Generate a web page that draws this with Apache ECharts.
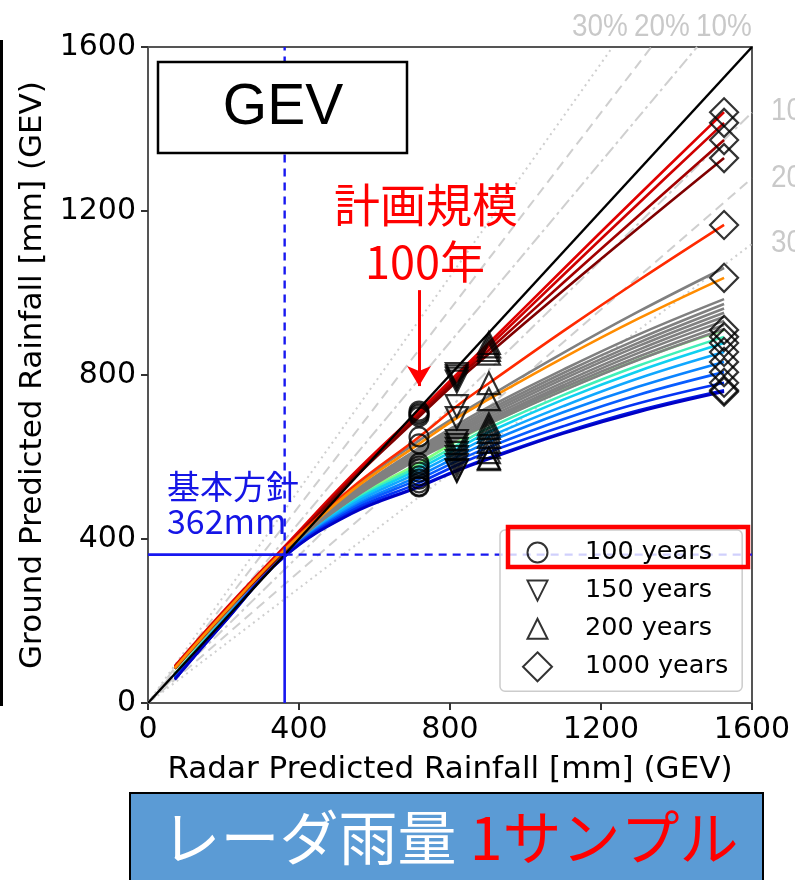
<!DOCTYPE html>
<html>
<head>
<meta charset="utf-8">
<script src="https://cdn.jsdelivr.net/npm/echarts@6/dist/echarts.min.js"></script>
<style>
  html, body { margin: 0; padding: 0; background: #ffffff; }
  #chart { width: 795px; height: 880px; }
</style>
</head>
<body>
<div id="chart"></div>
<script>
// Radar rainfall (mm) where every fitted curve is sampled; entries 4..6 and 9
// are the 100 / 150 / 200 / 1000-year quantiles.
const radarX = [71, 200, 362, 540, 718, 818, 903, 1100, 1300, 1526];
const periodLabels = ['100 years', '150 years', '200 years', '1000 years'];
const periodIndex = [4, 5, 6, 9];

// Ground rainfall (mm) along each curve, one value per radarX entry.
const warmCurves = [
  [90, 224, 382, 555, 712, 802, 878, 1058, 1239, 1441],
  [88, 221, 378, 550, 707, 797, 870, 1044, 1219, 1415],
  [86, 219, 375, 547, 703, 791, 861, 1025, 1189, 1373],
  [84, 217, 372, 543, 698, 784, 852, 1006, 1159, 1329],
  [86, 219, 376, 525, 649, 724, 780, 907, 1031, 1166],
  [85, 218, 374, 518, 632, 695, 741, 842, 938, 1037]
];
const coolCurves = [
  [72, 206, 366, 496, 585, 639, 680, 763, 838, 910],
  [70, 205, 365, 492, 578, 629, 671, 751, 823, 893],
  [68, 203, 364, 488, 571, 620, 661, 740, 810, 878],
  [66, 202, 363, 483, 563, 610, 649, 724, 792, 856],
  [64, 200, 362, 478, 554, 600, 637, 709, 772, 832],
  [62, 198, 361, 474, 546, 590, 624, 692, 752, 807],
  [60, 197, 360, 469, 537, 580, 612, 675, 731, 781],
  [58, 195, 358, 464, 529, 568, 598, 660, 714, 763],
  [57, 194, 357, 462, 527, 566, 595, 657, 710, 759]
];
const grayCurves = [
  [86, 218, 373, 522, 640, 700, 748, 854, 955, 1061],
  [86, 217, 372, 512, 622, 678, 722, 813, 899, 985],
  [86, 217, 372, 510, 618, 672, 715, 805, 888, 973],
  [85, 216, 371, 508, 614, 667, 709, 797, 879, 962],
  [85, 216, 371, 506, 610, 662, 703, 790, 871, 952],
  [85, 215, 370, 503, 606, 657, 697, 782, 862, 942],
  [84, 215, 370, 501, 602, 652, 691, 775, 854, 932],
  [84, 214, 369, 499, 599, 647, 686, 769, 845, 922],
  [84, 214, 369, 498, 596, 643, 681, 762, 837, 912]
];

const basicPlan = 362;            // 基本方針 (mm)
const arrowSpan = [1007, 773];    // 計画規模 arrow, ground mm at the 100-year radar value
const ratioBands = [0.1, 0.2, 0.3];
const axisMax = 1600;
const axisStep = 400;

// Styling
const warmColors = ['#e00000', '#cf0000', '#a30000', '#800000', '#ff2a00', '#ff8c00'];
const coolColors = ['#80ff80', '#40f0b8', '#10d0f0', '#10a8ff', '#0a84ff', '#085cff', '#0434f4', '#0014e0', '#0000c4'];
const grayColor = '#808080';
const bandDash = { 0.1: [12, 4, 3, 4], 0.2: [10, 6], 0.3: [2, 4] };
const markerSymbols = ['circle', 'path://M0,0L20,0L10,20Z', 'triangle', 'diamond'];
const markerSizes = [19, 22, 22, 28];
const legendIcons = [
  'path://M0,0M29,29M24.5,14.5A10,10,0,1,1,4.5,14.5A10,10,0,1,1,24.5,14.5Z',
  'path://M0,0M29,29M4.5,4.5L24.5,4.5L14.5,24.5Z',
  'path://M0,0M29,29M4.5,24.5L24.5,24.5L14.5,4.5Z',
  'path://M14.5,0L29,14.5L14.5,29L0,14.5Z'
];

const chart = echarts.init(document.getElementById('chart'), null, { renderer: 'canvas' });

function curve(values, color, z) {
  return {
    type: 'line',
    data: radarX.map((x, i) => [x, values[i]]),
    smooth: 0.4,
    symbol: 'none',
    lineStyle: { color: color, width: 2.6 },
    z: z,
    silent: true
  };
}

function segment(points, color, width, type, z) {
  return {
    type: 'line',
    data: points,
    symbol: 'none',
    lineStyle: { color: color, width: width, type: type },
    z: z,
    silent: true
  };
}

const series = [];

// ±10/20/30 % guide lines
ratioBands.forEach(p => {
  series.push(segment([[0, 0], [axisMax / (1 + p), axisMax]], '#cfcfcf', 2, bandDash[p], 1));
  series.push(segment([[0, 0], [axisMax, axisMax * (1 - p)]], '#cfcfcf', 2, bandDash[p], 1));
});

coolCurves.forEach((c, i) => series.push(curve(c, coolColors[i], 2)));
grayCurves.forEach(c => series.push(curve(c, grayColor, 2)));
warmCurves.forEach((c, i) => series.push(curve(c, warmColors[i], 3)));

// 1:1 line
series.push(segment([[0, 0], [axisMax, axisMax]], '#000000', 2.5, 'solid', 4));

// Basic plan cross-hair
series.push(segment([[basicPlan, 0], [basicPlan, basicPlan]], '#1818f0', 2.6, 'solid', 5));
series.push(segment([[0, basicPlan], [basicPlan, basicPlan]], '#1818f0', 2.6, 'solid', 5));
series.push(segment([[basicPlan, basicPlan], [basicPlan, axisMax]], '#1818f0', 2.4, [8, 6], 5));
series.push(segment([[basicPlan, basicPlan], [axisMax, basicPlan]], '#1818f0', 2.4, [8, 6], 5));

// Return-period markers on the coloured curves
const markedCurves = warmCurves.concat(coolCurves);
periodLabels.forEach((name, k) => {
  const idx = periodIndex[k];
  series.push({
    type: 'scatter',
    name: name,
    data: markedCurves.map(c => [radarX[idx], c[idx]]),
    symbol: markerSymbols[k],
    symbolSize: markerSizes[k],
    itemStyle: { color: 'rgba(0,0,0,0)', borderColor: '#000000', borderWidth: 2.2 },
    z: 6,
    silent: true
  });
});

// Arrow pointing at the 100-year plan scale
series.push({
  type: 'line',
  data: [],
  z: 7,
  markLine: {
    silent: true,
    symbol: ['none', 'arrow'],
    symbolSize: [18, 20],
    label: { show: false },
    lineStyle: { color: '#ff0000', width: 3, type: 'solid' },
    data: [[{ coord: [radarX[4], arrowSpan[0]] }, { coord: [radarX[4], arrowSpan[1]] }]]
  }
});

const tickFont = { fontFamily: 'DejaVu Sans', fontSize: 30, color: '#000000' };
const nameFont = { fontFamily: 'DejaVu Sans', fontSize: 31, color: '#000000' };
const cjk = '"Noto Sans CJK JP", sans-serif';
const gray = '#c9c9c9';
const plain = v => String(v);

// condensed grey labels for the percentage guide lines
function bandLabel(text, x, y) {
  return {
    type: 'text', z: 51, x: x, y: y, scaleX: 0.9,
    style: { text: text, font: '31px "Liberation Sans", sans-serif', fill: gray, align: 'left', verticalAlign: 'middle' }
  };
}

const option = {
  animation: false,
  backgroundColor: '#ffffff',
  grid: { left: 148, top: 47, width: 604, height: 656, show: true, borderColor: '#555555', borderWidth: 2, containLabel: false },
  xAxis: {
    type: 'value', min: 0, max: axisMax, interval: axisStep,
    name: 'Radar Predicted Rainfall [mm] (GEV)', nameLocation: 'middle', nameGap: 51, nameTextStyle: nameFont,
    axisLine: { show: true, lineStyle: { color: '#555555', width: 2 } },
    axisTick: { show: true, length: 7, lineStyle: { color: '#333333', width: 2 } },
    axisLabel: Object.assign({ margin: 12, formatter: plain }, tickFont),
    splitLine: { show: false }
  },
  yAxis: {
    type: 'value', min: 0, max: axisMax, interval: axisStep,
    name: 'Ground Predicted Rainfall [mm] (GEV)', nameLocation: 'middle', nameGap: 80, nameTextStyle: nameFont,
    axisLine: { show: true, lineStyle: { color: '#555555', width: 2 } },
    axisTick: { show: true, length: 7, lineStyle: { color: '#333333', width: 2 } },
    axisLabel: Object.assign({ margin: 12, formatter: plain }, tickFont),
    splitLine: { show: false }
  },
  legend: {
    orient: 'vertical',
    left: 500, top: 530,
    padding: [7, 14, 9, 22],
    itemWidth: 29, itemHeight: 29, itemGap: 7.1,
    selectedMode: false,
    backgroundColor: 'rgba(255,255,255,0.8)',
    borderColor: '#cccccc', borderWidth: 1.5, borderRadius: 5,
    itemStyle: { color: 'rgba(0,0,0,0)', borderColor: '#000000', borderWidth: 2 },
    textStyle: { fontFamily: 'DejaVu Sans', fontSize: 25.5, color: '#000000', padding: [0, 0, 0, 28] },
    data: periodLabels.map((n, k) => ({ name: n, icon: legendIcons[k] })),
    z: 8
  },
  graphic: [
    // panel edge on the far left
    { type: 'line', z: 50, shape: { x1: 1.5, y1: 40, x2: 1.5, y2: 706 }, style: { stroke: '#000000', lineWidth: 3 } },
    // model tag
    { type: 'rect', z: 50, shape: { x: 158, y: 62, width: 249, height: 91 }, style: { fill: '#ffffff', stroke: '#000000', lineWidth: 2.5 } },
    { type: 'text', z: 51, x: 283, y: 108, style: { text: 'GEV', font: '57px "Liberation Sans", Arial, sans-serif', fill: '#000000', align: 'center', verticalAlign: 'middle' } },
    // plan scale annotation
    { type: 'text', z: 51, x: 426, y: 205, style: { text: '計画規模', font: '46px ' + cjk, fill: '#ff0000', align: 'center', verticalAlign: 'middle' } },
    { type: 'text', z: 51, x: 425, y: 262, style: { text: '100年', font: '45px ' + cjk, fill: '#ff0000', align: 'center', verticalAlign: 'middle' } },
    // basic plan annotation
    { type: 'text', z: 51, x: 167, y: 486, style: { text: '基本方針', font: '33px ' + cjk, fill: '#1515e6', align: 'left', verticalAlign: 'middle' } },
    { type: 'text', z: 51, x: 167, y: 521, style: { text: '362mm', font: '34px ' + cjk, fill: '#1515e6', align: 'left', verticalAlign: 'middle' } },
    // guide line labels
    bandLabel('30%', 572, 27),
    bandLabel('20%', 634, 27),
    bandLabel('10%', 696, 27),
    bandLabel('10%', 771, 111),
    bandLabel('20%', 771, 178),
    bandLabel('30%', 771, 243),
    // highlight around the 100-year legend entry
    { type: 'rect', z: 60, shape: { x: 508, y: 527, width: 240, height: 40 }, style: { fill: 'none', stroke: '#ff0000', lineWidth: 4.5 } },
    // caption banner
    { type: 'rect', z: 50, shape: { x: 130, y: 793, width: 633, height: 100 }, style: { fill: '#5b9bd5', stroke: '#000000', lineWidth: 2 } },
    {
      type: 'text', z: 51, x: 450, y: 838,
      style: {
        text: '{w|レーダ雨量} {r|1サンプル}',
        align: 'center', verticalAlign: 'middle',
        font: '59px ' + cjk,
        rich: {
          w: { fill: '#ffffff', font: '59px ' + cjk },
          r: { fill: '#ff0000', font: '59px ' + cjk }
        }
      }
    }
  ],
  series: series
};

chart.setOption(option);
</script>
</body>
</html>
